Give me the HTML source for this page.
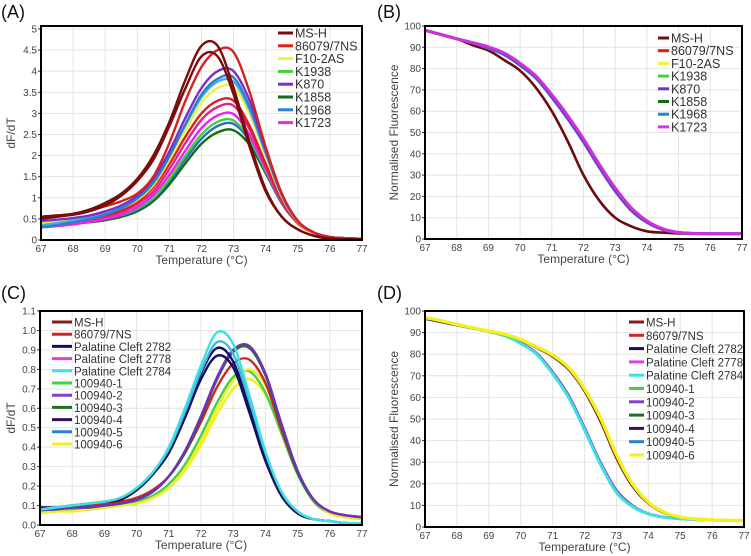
<!DOCTYPE html>
<html><head><meta charset="utf-8">
<style>
html,body{margin:0;padding:0;background:#fff;}
svg{display:block;font-family:"Liberation Sans",sans-serif;}
</style></head>
<body>
<svg id="fig" width="751" height="556" viewBox="0 0 751 556" xmlns="http://www.w3.org/2000/svg"></svg>
<script>
// ---------- DATA ----------
const temps = [67,67.5,68,68.5,69,69.5,70,70.5,71,71.5,72,72.5,73,73.5,74,74.5,75,75.5,76,76.5,77];
const xTicks = [67,68,69,70,71,72,73,74,75,76,77];
const yTicksA = [0,0.5,1,1.5,2,2.5,3,3.5,4,4.5,5];
const yTickLabelsA = ["0","0.5","1","1.5","2","2.5","3","3.5","4","4.5","5"];
const yTicksB = [0,10,20,30,40,50,60,70,80,90,100];
const yTicksC = [0,0.1,0.2,0.3,0.4,0.5,0.6,0.7,0.8,0.9,1.0,1.1];
const yTickLabelsC = ["0.0","0.1","0.2","0.3","0.4","0.5","0.6","0.7","0.8","0.9","1.0","1.1"];

const legendAB = ["MS-H","86079/7NS","F10-2AS","K1938","K870","K1858","K1968","K1723"];
const legendColorsAB = ["#7a0c0c","#d42222","#f2f040","#44d044","#7a30c8","#106e10","#2a80d0","#e030e0"];
const legendCD = ["MS-H","86079/7NS","Palatine Cleft 2782","Palatine Cleft 2778","Palatine Cleft 2784","100940-1","100940-2","100940-3","100940-4","100940-5","100940-6"];
const legendColorsCD = ["#8a1a1a","#d42222","#101060","#e040e0","#40e0e0","#44d044","#8040d0","#207020","#301060","#2a80d0","#f2f020"];

// Panel A series (dF/dT)
const aDarkGreen = [0.35,0.37,0.39,0.42,0.47,0.55,0.68,0.92,1.32,1.82,2.28,2.55,2.6,2.25,1.58,0.87,0.4,0.17,0.07,0.04,0.03];
const aBlue2 = [0.32,0.35,0.38,0.43,0.5,0.58,0.72,0.97,1.4,1.92,2.4,2.7,2.75,2.35,1.62,0.88,0.4,0.17,0.07,0.04,0.03];
const aGreen = [0.38,0.4,0.42,0.46,0.52,0.6,0.75,1.0,1.45,2.0,2.5,2.8,2.83,2.4,1.65,0.9,0.4,0.17,0.07,0.04,0.03];
const aMagenta2 = [0.3,0.33,0.37,0.43,0.5,0.6,0.78,1.07,1.55,2.12,2.65,2.95,2.98,2.48,1.68,0.9,0.4,0.17,0.07,0.04,0.03];
const aMagenta = [0.35,0.38,0.42,0.48,0.56,0.66,0.85,1.15,1.68,2.3,2.85,3.15,3.18,2.62,1.75,0.92,0.4,0.17,0.07,0.04,0.03];
const aRed2 = [0.4,0.42,0.45,0.5,0.58,0.7,0.9,1.25,1.8,2.45,3.0,3.3,3.3,2.7,1.8,0.95,0.4,0.17,0.07,0.04,0.03];
const aYellow = [0.4,0.43,0.47,0.53,0.62,0.75,0.95,1.3,1.9,2.6,3.25,3.6,3.62,2.98,1.98,1.02,0.43,0.17,0.07,0.04,0.03];
const aCyan = [0.35,0.4,0.46,0.53,0.63,0.78,1.0,1.38,2.0,2.72,3.38,3.75,3.75,3.08,2.05,1.05,0.44,0.18,0.07,0.04,0.03];
const aBlue = [0.3,0.35,0.42,0.5,0.6,0.75,0.98,1.35,1.98,2.75,3.45,3.82,3.85,3.15,2.1,1.08,0.45,0.18,0.07,0.04,0.03];
const aPurple = [0.45,0.48,0.52,0.58,0.68,0.82,1.05,1.45,2.1,2.9,3.6,4.0,4.0,3.3,2.15,1.1,0.45,0.18,0.07,0.04,0.03];
const aRed = [0.55,0.58,0.62,0.7,0.8,0.92,1.1,1.5,2.3,3.3,4.1,4.5,4.45,3.5,2.2,1.1,0.45,0.18,0.07,0.04,0.03];
const aMSH2 = [0.5,0.55,0.6,0.68,0.82,1.05,1.4,1.9,2.7,3.6,4.35,4.35,3.45,2.2,1.15,0.55,0.25,0.1,0.04,0.02,0.02];
const aMSH1 = [0.55,0.58,0.62,0.72,0.88,1.1,1.45,2.0,2.8,3.8,4.6,4.6,3.6,2.3,1.2,0.55,0.25,0.1,0.03,0.02,0.02];

// Panel B series (normalised fluorescence)
const bMSH = [98,96,94,91,88.5,84,79,71,60,46,30,18,10,6,3.6,3,2.6,2.5,2.5,2.5,2.5];
const bBlue = [98,96,94,92,89.5,86.5,81.5,75.5,66.5,56.5,45.5,33.5,22.5,13.5,7.8,4.4,3,2.6,2.5,2.5,2.5];
const bPurple = [98,96,94,92,90,87,82,76,67,57,46,34,23,14,8,4.5,3,2.6,2.5,2.5,2.5];
const bMagenta = [98,96,94,92.2,90.2,87.3,82.5,76.5,67.8,58,47,35,24,14.8,8.5,4.8,3.1,2.6,2.5,2.5,2.5];

// Panel C series (dF/dT)
const cCyan = [0.08,0.09,0.1,0.11,0.12,0.14,0.19,0.27,0.4,0.6,0.82,0.99,0.93,0.67,0.38,0.17,0.07,0.03,0.02,0.01,0.01];
const cCyan2 = [0.08,0.09,0.1,0.11,0.12,0.14,0.19,0.27,0.39,0.58,0.79,0.94,0.88,0.64,0.37,0.17,0.07,0.03,0.02,0.01,0.01];
const cNavy = [0.09,0.09,0.1,0.11,0.12,0.13,0.18,0.26,0.38,0.57,0.78,0.91,0.84,0.6,0.34,0.15,0.06,0.03,0.02,0.01,0.01];
const cNavy2 = [0.09,0.09,0.1,0.11,0.12,0.13,0.18,0.26,0.37,0.55,0.75,0.87,0.81,0.58,0.33,0.15,0.06,0.03,0.02,0.01,0.01];
const cPurple = [0.08,0.08,0.09,0.09,0.1,0.11,0.13,0.17,0.25,0.38,0.56,0.76,0.9,0.92,0.78,0.52,0.28,0.13,0.07,0.05,0.04];
const cDark = [0.08,0.08,0.09,0.09,0.1,0.11,0.13,0.17,0.25,0.37,0.55,0.75,0.89,0.91,0.77,0.51,0.27,0.13,0.07,0.05,0.04];
const cRed = [0.09,0.09,0.1,0.1,0.11,0.12,0.14,0.18,0.25,0.37,0.53,0.71,0.83,0.85,0.73,0.49,0.27,0.13,0.07,0.05,0.04];
const cGreen = [0.07,0.07,0.08,0.08,0.09,0.1,0.12,0.15,0.21,0.31,0.46,0.63,0.76,0.79,0.68,0.47,0.26,0.12,0.06,0.04,0.03];
const cYellow = [0.06,0.07,0.07,0.08,0.09,0.1,0.11,0.14,0.19,0.29,0.43,0.6,0.74,0.8,0.72,0.51,0.28,0.13,0.06,0.04,0.03];
const cYellow2 = [0.06,0.07,0.07,0.08,0.09,0.1,0.11,0.14,0.19,0.28,0.41,0.57,0.7,0.75,0.67,0.48,0.27,0.13,0.06,0.04,0.03];

// Panel D series (normalised fluorescence)
const dLeft = [96.5,95,93.5,92,90.5,88.5,85,80,71,60,45,29,16,9.5,6,4.5,3.8,3.4,3.2,3,3];
const dLeft2 = [96.5,95,93.5,92,90.5,88.5,85.3,80.5,71.8,61,46,30,17,10,6.2,4.6,3.8,3.4,3.2,3,3];
const dRight = [96.5,95,93.5,92,90.5,89,86.5,83,79,73,63,49,32,19,11,6.5,4.4,3.6,3.2,3,3];
const dYellow = [97,95.5,93.8,92.2,90.7,89.2,86.8,83.4,79.6,73.8,64,50.5,33.5,20,11.5,6.8,4.6,3.7,3.3,3.1,3];

// ---------- DRAWING ----------
const NS = "http://www.w3.org/2000/svg";
const fig = document.getElementById("fig");
function mk(tag, attrs, parent){
  const e = document.createElementNS(NS, tag);
  for (const k in attrs) e.setAttribute(k, attrs[k]);
  (parent||fig).appendChild(e);
  return e;
}
function smoothPath(pts){
  let d = "M" + pts[0][0].toFixed(1) + "," + pts[0][1].toFixed(1);
  for (let i=0;i<pts.length-1;i++){
    const p0 = pts[Math.max(0,i-1)], p1 = pts[i], p2 = pts[i+1], p3 = pts[Math.min(pts.length-1,i+2)];
    const c1x = p1[0]+(p2[0]-p0[0])/6, c1y = p1[1]+(p2[1]-p0[1])/6;
    const c2x = p2[0]-(p3[0]-p1[0])/6, c2y = p2[1]-(p3[1]-p1[1])/6;
    d += " C"+c1x.toFixed(1)+","+c1y.toFixed(1)+" "+c2x.toFixed(1)+","+c2y.toFixed(1)+" "+p2[0].toFixed(1)+","+p2[1].toFixed(1);
  }
  return d;
}

function panel(cfg){
  const g = mk("g", {});
  
  
  const xs = v => cfg.L + (v-67)/10*(cfg.R-cfg.L);
  const ys = v => cfg.B - (v-cfg.ymin)/(cfg.ymax-cfg.ymin)*(cfg.B-cfg.T);
  const lab = mk("text", {x: cfg.lx, y: cfg.ly, "font-size": 18, fill:"#111"}, g);
  lab.textContent = cfg.label;
  
  
  xTicks.forEach(t=>{
    const l = mk("line",{x1:xs(t),x2:xs(t),y1:cfg.T,y2:cfg.B,stroke:"#e4e4e4","stroke-width":1},g);
    
    
    const tx = mk("text",{x:xs(t),y:cfg.B+12,"font-size":10,fill:"#444","text-anchor":"middle"},g);
    tx.textContent = t;
    
    
  });
  cfg.yt.forEach((t,i)=>{
    const l = mk("line",{x1:cfg.L,x2:cfg.R,y1:ys(t),y2:ys(t),stroke:"#e4e4e4","stroke-width":1},g);
    
    
    const tk = mk("line",{x1:cfg.L-3,x2:cfg.L,y1:ys(t),y2:ys(t),stroke:"#333","stroke-width":1},g);
    
    
    const tx = mk("text",{x:cfg.L-4,y:ys(t)+3.5,"font-size":10,fill:"#444","text-anchor":"end"},g);
    tx.textContent = cfg.ytl[i];
    
    
  });
  const clipId = "clip-"+cfg.name;
  const cp = mk("clipPath",{id:clipId},g);
  mk("rect",{x:cfg.L,y:cfg.T,width:cfg.R-cfg.L,height:cfg.B-cfg.T},cp);
  const sg = mk("g",{"clip-path":"url(#"+clipId+")"},g);
  cfg.series.forEach(s=>{
    const pts = temps.map((t,i)=>[xs(t), ys(s.v[i])]);
    const p = mk("path",{d:smoothPath(pts),fill:"none",stroke:s.c,"stroke-width":s.w||2.4,"stroke-linejoin":"round"},sg);
    
    
  });
  const fr = mk("rect",{x:cfg.L,y:cfg.T,width:cfg.R-cfg.L,height:cfg.B-cfg.T,fill:"none",stroke:"#000","stroke-width":2},g);
  
  
  const xt = mk("text",{x:(cfg.L+cfg.R)/2,y:cfg.B+24,"font-size":12,fill:"#444","text-anchor":"middle"},g);
  xt.textContent = "Temperature (°C)";
  
  
  const yx = cfg.yTitleX, yy = (cfg.T+cfg.B)/2;
  const yt = mk("text",{x:yx,y:yy,"font-size":12,fill:"#444","text-anchor":"middle",transform:"rotate(-90 "+yx+" "+yy+")"},g);
  yt.textContent = cfg.ytitle;
  
  
  const lg = mk("g",{},g);
  
  
  cfg.leg.forEach((name,i)=>{
    const y = cfg.legY + i*cfg.legStep;
    const e = mk("g",{},lg);
    
    
    mk("line",{x1:cfg.legX,x2:cfg.legX+cfg.legW,y1:y,y2:y,stroke:cfg.legC[i],"stroke-width":3},e);
    const t = mk("text",{x:cfg.legX+cfg.legW+2,y:y+4.5,"font-size":cfg.legFont,fill:"#333"},e);
    t.textContent = name;
  });
}

panel({name:"panel-a",label:"(A)",lx:1,ly:18,L:41,R:362,T:26,B:240,ymin:0,ymax:5.07,yt:yTicksA,ytl:yTickLabelsA,
  ytitle:"dF/dT",yTitleX:15,leg:legendAB,legC:legendColorsAB,legX:278,legW:15,legY:33,legStep:12.8,legFont:12.5,
  series:[
    {n:"series-k1858",c:"#106e10",v:aDarkGreen},{n:"series-k1968-b",c:"#2a70c0",v:aBlue2},
    {n:"series-k1938",c:"#44d044",v:aGreen},{n:"series-k1723-b",c:"#f020f0",v:aMagenta2},
    {n:"series-k1723",c:"#e8208a",v:aMagenta},{n:"series-86079-b",c:"#d42222",v:aRed2},
    {n:"series-f10-2as",c:"#f2f040",v:aYellow},{n:"series-k1968-c",c:"#40b0e8",v:aCyan},
    {n:"series-k1968",c:"#2a80d0",v:aBlue},{n:"series-k870",c:"#7a30c8",v:aPurple},
    {n:"series-86079",c:"#d42222",v:aRed},{n:"series-msh-b",c:"#7a0c0c",v:aMSH2},{n:"series-msh",c:"#7a0c0c",v:aMSH1}
  ]});

panel({name:"panel-b",label:"(B)",lx:377,ly:18,L:425,R:742,T:26,B:239,ymin:0,ymax:100,yt:yTicksB,ytl:yTicksB.map(String),
  ytitle:"Normalised Fluorescence",yTitleX:398,leg:legendAB,legC:legendColorsAB,legX:658,legW:11,legY:38,legStep:12.7,legFont:12.5,
  series:[
    {n:"series-msh",c:"#6a0c0c",v:bMSH,w:2.6},{n:"series-k1968",c:"#2a80d0",v:bBlue,w:3},
    {n:"series-k870",c:"#7a30c8",v:bPurple,w:3},{n:"series-k1723",c:"#d030d8",v:bMagenta,w:3}
  ]});

panel({name:"panel-c",label:"(C)",lx:1,ly:299,L:40,R:362,T:311,B:525,ymin:0,ymax:1.1,yt:yTicksC,ytl:yTickLabelsC,
  ytitle:"dF/dT",yTitleX:15,leg:legendCD,legC:legendColorsCD,legX:52,legW:20,legY:322,legStep:12.2,legFont:11.5,
  series:[
    {n:"series-100940-6-b",c:"#f2f020",v:cYellow2},{n:"series-100940-1",c:"#44d044",v:cGreen},
    {n:"series-100940-6",c:"#f2f020",v:cYellow},{n:"series-86079",c:"#d42222",v:cRed},
    {n:"series-100940-3",c:"#207020",v:cDark},{n:"series-100940-2",c:"#7030c0",v:cPurple},
    {n:"series-palatine-2782-b",c:"#101060",v:cNavy2},{n:"series-palatine-2782",c:"#101060",v:cNavy},
    {n:"series-palatine-2784-b",c:"#40b8e0",v:cCyan2},{n:"series-palatine-2784",c:"#40e0e0",v:cCyan}
  ]});

panel({name:"panel-d",label:"(D)",lx:377,ly:299,L:425,R:744,T:311,B:527,ymin:0,ymax:100,yt:yTicksB,ytl:yTicksB.map(String),
  ytitle:"Normalised Fluorescence",yTitleX:398,leg:legendCD,legC:legendColorsCD,legX:629,legW:15,legY:322,legStep:13.3,legFont:11.5,
  series:[
    {n:"series-100940-2",c:"#8040d0",v:dLeft2,w:2.6},{n:"series-palatine-2784",c:"#40e0e0",v:dLeft,w:3},
    {n:"series-msh",c:"#6a1a1a",v:dRight,w:2.6},{n:"series-100940-6",c:"#f2f020",v:dYellow,w:3.4}
  ]});
</script>
</body></html>
